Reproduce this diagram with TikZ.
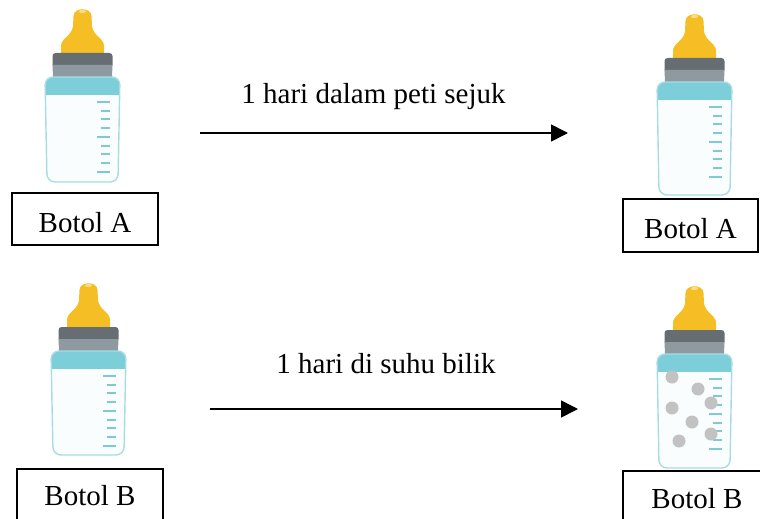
\documentclass[tikz,border=0pt]{standalone}
\usepackage{fontspec}
\setmainfont{Liberation Serif}
\usetikzlibrary{arrows.meta}

\definecolor{teatyellow}{HTML}{F5BE24}
\definecolor{teatlight}{HTML}{FADC86}
\definecolor{capdarkgrey}{HTML}{666E74}
\definecolor{capgreygrey}{HTML}{8F9AA0}
\definecolor{shoulderblue}{HTML}{7CCFD8}
\definecolor{bodywhite}{HTML}{FAFDFD}
\definecolor{outlineblue}{HTML}{A8DCE2}
\definecolor{gradblue}{HTML}{7FC9D2}
\definecolor{dotgrey}{HTML}{C2C2C2}

\tikzset{
  teat/.style={fill=teatyellow},
  teatshine/.style={fill=teatlight},
  capdark/.style={fill=capdarkgrey},
  capgrey/.style={fill=capgreygrey},
  shoulder/.style={fill=shoulderblue},
  bodyfill/.style={fill=bodywhite},
  bodyline/.style={draw=outlineblue, line width=1.4pt},
  gradline/.style={draw=gradblue, line width=2pt},
  sediment/.style={fill=dotgrey},
  labelbox/.style={draw, line width=1.8pt, inner sep=0pt, anchor=base,
    font=\fontsize{29}{34}\selectfont},
  caption/.style={inner sep=0pt, anchor=base, font=\fontsize{29}{34}\selectfont},
  flow/.style={line width=1.6pt, -{Triangle[length=17pt,width=17pt]}},
  % baby bottle, origin at the top of the teat, argument = depth of the bottom
  pics/babybottle/.style={code={
    % teat
    \fill[teat] (-21.5,45) -- (-21.5,38) .. controls (-21.5,30) and (-10.5,28) .. (-9.5,18)
      -- (-9,8) .. controls (-9,-1) and (9,-1) .. (9,8)
      -- (9.5,18) .. controls (10.5,28) and (21.5,30) .. (21.5,38) -- (21.5,45) -- cycle;
    \fill[teatshine] (0,3.5) ellipse [x radius=3.5pt, y radius=1.6pt];
    % screw cap
    \fill[capdark, rounded corners=3pt] (-30,60) rectangle (30,45);
    \fill[capgrey] (-30,57) -- (30,57) -- (29.5,69) -- (-29.5,69) -- cycle;
    % body with coloured shoulder
    \fill[bodyfill, rounded corners=8pt]
      (-37.5,69) -- (37.5,69) -- (35.5,#1) -- (-35.5,#1) -- cycle;
    \begin{scope}
      \clip[rounded corners=8pt]
        (-37.5,69) -- (37.5,69) -- (35.5,#1) -- (-35.5,#1) -- cycle;
      \fill[shoulder] (-40,60) rectangle (40,87);
    \end{scope}
    \draw[bodyline, rounded corners=8pt]
      (-37.5,69) -- (37.5,69) -- (35.5,#1) -- (-35.5,#1) -- cycle;
    % graduations
    \foreach \yy in {94,129,164}
      \draw[gradline] (14.5,\yy) -- (27.5,\yy);
    \foreach \yy in {103,111,120,138,146,155}
      \draw[gradline] (18,\yy) -- (27.5,\yy);
  }}
}

\begin{document}
\begin{tikzpicture}[x=1pt, y=-1pt]
\useasboundingbox (0,0) rectangle (760,519);

% bottles
\pic at (82.5,8) {babybottle=174};
\pic at (694.5,13) {babybottle=182};
\pic at (88.5,282) {babybottle=173};
\pic at (694.5,285) {babybottle=183};

% sediment in bottle B after a day at room temperature
\foreach \px/\py in {672/377, 698/389, 711/403, 672/408, 692/422, 711/434, 679/441}
  \fill[sediment] (\px,\py) circle [radius=6.5pt];

% labels under the bottles
\node[labelbox, minimum width=146pt, text height=39pt, text depth=13pt]
  (boxA1) at (85,232) {Botol A};
\node[labelbox, minimum width=135pt, text height=39pt, text depth=14pt]
  (boxA2) at (690.5,238) {Botol A};
\node[labelbox, minimum width=146pt, text height=36pt, text depth=30pt]
  (boxB1) at (90,505) {Botol B};
\node[labelbox, minimum width=148pt, text height=37pt, text depth=30pt]
  (boxB2) at (697,508) {Botol B};

% storage conditions
\node[caption] (cond1) at (373.5,103) {1 hari dalam peti sejuk};
\coordinate (flow1s) at (200,133);
\coordinate (flow1e) at (568,133);
\draw[flow] (flow1s) -- (flow1e);

\node[caption] (cond2) at (386,373) {1 hari di suhu bilik};
\coordinate (flow2s) at (210,409);
\coordinate (flow2e) at (578,409);
\draw[flow] (flow2s) -- (flow2e);
\end{tikzpicture}
\end{document}
